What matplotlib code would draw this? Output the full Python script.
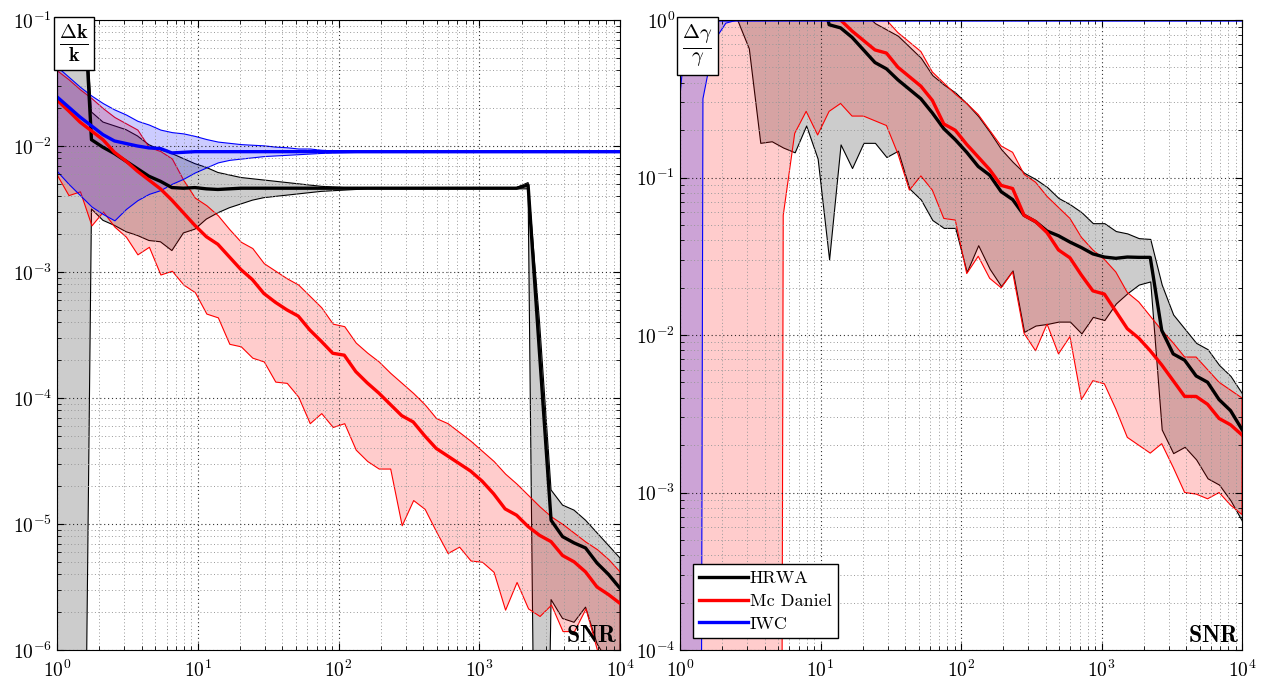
import numpy as np
import matplotlib.pyplot as plt

plt.rcParams['font.family'] = 'serif'
plt.rcParams['font.serif'] = ['cmr10']
plt.rcParams['mathtext.fontset'] = 'cm'
plt.rcParams['axes.formatter.use_mathtext'] = True

# SNR sampling (50 log-spaced points from 1 to 1e4)
snr = np.logspace(0, 4, 50)

# ---- left panel: relative error on k (values are log10) ----
k_hrwa_mean = [
    -0.25, -0.25, -0.25, -1.95, -2.01, -2.06, -2.12, -2.18, -2.24, -2.28,
    -2.33, -2.335, -2.33, -2.34, -2.345, -2.34, -2.335, -2.335, -2.335, -2.335,
    -2.335, -2.335, -2.335, -2.335, -2.335, -2.335, -2.335, -2.335, -2.335, -2.335,
    -2.335, -2.335, -2.335, -2.335, -2.335, -2.335, -2.335, -2.335, -2.335, -2.335,
    -2.335, -2.31, -3.65, -4.97, -5.10, -5.15, -5.19, -5.31, -5.40, -5.51]
k_hrwa_hi = [
    -0.20, -0.20, -0.20, -1.73, -1.81, -1.84, -1.87, -1.92, -1.99, -2.03,
    -2.06, -2.10, -2.14, -2.17, -2.21, -2.23, -2.25, -2.26, -2.27, -2.28,
    -2.29, -2.30, -2.31, -2.32, -2.325, -2.33, -2.33, -2.33, -2.33, -2.33,
    -2.33, -2.33, -2.33, -2.33, -2.33, -2.33, -2.33, -2.33, -2.33, -2.33,
    -2.33, -2.29, -3.40, -4.73, -4.85, -4.89, -4.97, -5.07, -5.17, -5.27]
k_hrwa_lo = [
    -11, -11, -11, -2.50, -2.59, -2.63, -2.68, -2.71, -2.75, -2.76,
    -2.83, -2.69, -2.66, -2.58, -2.53, -2.49, -2.46, -2.43, -2.41, -2.40,
    -2.39, -2.38, -2.37, -2.36, -2.355, -2.35, -2.345, -2.34, -2.34, -2.34,
    -2.34, -2.34, -2.34, -2.34, -2.34, -2.34, -2.34, -2.34, -2.34, -2.34,
    -2.34, -2.34, -11, -5.60, -5.75, -5.78, -5.66, -5.95, -6.10, -6.30]

k_mcd_mean = [
    -1.635, -1.72, -1.81, -1.88, -1.95, -2.05, -2.12, -2.20, -2.27, -2.34,
    -2.43, -2.53, -2.63, -2.72, -2.78, -2.88, -2.98, -3.06, -3.17, -3.24,
    -3.30, -3.35, -3.46, -3.55, -3.645, -3.66, -3.79, -3.88, -3.96, -4.05,
    -4.14, -4.19, -4.30, -4.40, -4.46, -4.52, -4.58, -4.66, -4.76, -4.88,
    -4.93, -5.02, -5.09, -5.14, -5.25, -5.30, -5.38, -5.50, -5.56, -5.63]
k_mcd_hi = [
    -1.40, -1.47, -1.55, -1.62, -1.70, -1.77, -1.82, -1.87, -2.01, -2.04,
    -2.10, -2.27, -2.41, -2.47, -2.55, -2.66, -2.76, -2.81, -2.93, -2.99,
    -3.05, -3.10, -3.19, -3.28, -3.41, -3.43, -3.56, -3.64, -3.71, -3.80,
    -3.88, -3.96, -4.05, -4.16, -4.20, -4.27, -4.34, -4.42, -4.50, -4.60,
    -4.68, -4.77, -4.86, -4.94, -5.00, -5.07, -5.14, -5.20, -5.28, -5.38]
k_mcd_lo = [
    -2.23, -2.39, -2.36, -2.63, -2.52, -2.64, -2.72, -2.86, -2.80, -3.02,
    -2.99, -3.10, -3.16, -3.33, -3.36, -3.57, -3.59, -3.68, -3.71, -3.87,
    -3.88, -3.99, -4.20, -4.12, -4.23, -4.20, -4.41, -4.50, -4.56, -4.56,
    -5.01, -4.81, -4.88, -5.06, -5.23, -5.18, -5.29, -5.30, -5.38, -5.68,
    -5.46, -5.67, -5.73, -5.64, -5.85, -5.85, -5.67, -6.00, -6.10, -6.20]

k_iwc_mean = [
    -1.61, -1.69, -1.77, -1.84, -1.91, -1.96, -1.98, -2.00, -2.015, -2.02,
    -2.055, -2.05, -2.045, -2.045, -2.045, -2.045, -2.045, -2.045, -2.045, -2.045,
    -2.045, -2.045, -2.045, -2.045, -2.045, -2.045, -2.045, -2.045, -2.045, -2.045,
    -2.045, -2.045, -2.045, -2.045, -2.045, -2.045, -2.045, -2.045, -2.045, -2.045,
    -2.045, -2.045, -2.045, -2.045, -2.045, -2.045, -2.045, -2.045, -2.045, -2.045]
k_iwc_hi = [
    -1.37, -1.45, -1.53, -1.60, -1.66, -1.71, -1.75, -1.80, -1.83, -1.87,
    -1.89, -1.90, -1.92, -1.945, -1.965, -1.975, -1.985, -1.99, -1.995, -2.005,
    -2.01, -2.02, -2.02, -2.03, -2.035, -2.037, -2.04, -2.042, -2.043, -2.043,
    -2.043, -2.043, -2.043, -2.043, -2.043, -2.043, -2.043, -2.043, -2.043, -2.043,
    -2.043, -2.043, -2.043, -2.043, -2.043, -2.043, -2.043, -2.043, -2.043, -2.043]
k_iwc_lo = [
    -2.20, -2.30, -2.39, -2.48, -2.54, -2.59, -2.50, -2.43, -2.38, -2.35,
    -2.30, -2.26, -2.21, -2.17, -2.13, -2.11, -2.10, -2.09, -2.08, -2.075,
    -2.07, -2.065, -2.06, -2.055, -2.052, -2.05, -2.048, -2.048, -2.048, -2.048,
    -2.048, -2.048, -2.048, -2.048, -2.048, -2.048, -2.048, -2.048, -2.048, -2.048,
    -2.048, -2.048, -2.048, -2.048, -2.048, -2.048, -2.048, -2.048, -2.048, -2.048]

# ---- right panel: relative error on gamma (values are log10) ----
g_hrwa_mean = [
    0.3, 0.3, 0.3, 0.3, 0.3, 0.3, 0.3, 0.3, 0.3, 0.3,
    0.3, 0.3, 0.3, -0.03, -0.05, -0.11, -0.19, -0.27, -0.31, -0.38,
    -0.44, -0.50, -0.59, -0.69, -0.76, -0.84, -0.93, -0.985, -1.09, -1.14,
    -1.24, -1.28, -1.34, -1.37, -1.41, -1.445, -1.485, -1.505, -1.513, -1.505,
    -1.507, -1.507, -1.97, -2.12, -2.16, -2.26, -2.30, -2.41, -2.48, -2.60]
g_hrwa_hi = [
    0.3, 0.3, 0.3, 0.3, 0.3, 0.3, 0.3, 0.3, 0.3, 0.3,
    0.3, 0.3, 0.3, 0.3, 0.3, 0.3, 0.05, -0.02, -0.06, -0.10,
    -0.17, -0.24, -0.35, -0.41, -0.46, -0.53, -0.61, -0.71, -0.82, -0.90,
    -0.97, -1.01, -1.06, -1.13, -1.17, -1.22, -1.29, -1.29, -1.34, -1.355,
    -1.385, -1.39, -1.68, -1.87, -1.96, -2.05, -2.09, -2.19, -2.26, -2.37]
g_hrwa_lo = [
    0.3, 0.3, 0.3, 0.3, 0.3, 0.0, -0.18, -0.78, -0.77, -0.81,
    -0.84, -0.67, -0.88, -1.52, -0.79, -0.94, -0.78, -0.78, -0.87, -0.83,
    -1.07, -1.14, -1.27, -1.32, -1.32, -1.60, -1.43, -1.58, -1.69, -1.59,
    -1.98, -1.94, -1.93, -1.915, -1.915, -1.99, -1.885, -1.905, -1.80, -1.735,
    -1.68, -1.66, -2.60, -2.75, -2.71, -2.79, -2.91, -2.95, -3.05, -3.18]

g_mcd_mean = [
    0.3, 0.3, 0.3, 0.3, 0.3, 0.3, 0.3, 0.3, 0.3, 0.3,
    0.3, 0.3, 0.3, 0.3, 0.0, -0.07, -0.13, -0.19, -0.21, -0.30,
    -0.36, -0.42, -0.51, -0.66, -0.70, -0.79, -0.87, -0.95, -1.05, -1.07,
    -1.24, -1.28, -1.35, -1.46, -1.51, -1.62, -1.72, -1.74, -1.85, -1.96,
    -2.02, -2.10, -2.19, -2.29, -2.39, -2.39, -2.44, -2.53, -2.57, -2.635]
g_mcd_hi = [
    0.3, 0.3, 0.3, 0.3, 0.3, 0.3, 0.3, 0.3, 0.3, 0.3,
    0.3, 0.3, 0.3, 0.3, 0.3, 0.3, 0.3, 0.3, 0.0, -0.08,
    -0.14, -0.20, -0.33, -0.40, -0.47, -0.53, -0.60, -0.70, -0.80, -0.84,
    -0.98, -1.03, -1.12, -1.19, -1.26, -1.38, -1.46, -1.52, -1.60, -1.73,
    -1.79, -1.88, -1.97, -2.05, -2.14, -2.14, -2.22, -2.30, -2.35, -2.40]
g_mcd_lo = [
    -30, -30, -30, -30, -30, -30, -30, -30, -30, -1.24,
    -0.72, -0.58, -0.73, -0.58, -0.53, -0.61, -0.61, -0.64, -0.67, -0.85,
    -1.08, -0.99, -1.08, -1.26, -1.27, -1.61, -1.50, -1.64, -1.70, -1.60,
    -1.99, -2.10, -1.93, -2.12, -2.01, -2.41, -2.29, -2.31, -2.47, -2.65,
    -2.70, -2.75, -2.69, -2.84, -3.00, -3.01, -3.04, -3.00, -3.08, -3.14]

g_iwc_mean = [0.3, 0.3, 0.3, 0.0, 0.0] + [0.0] * 45
g_iwc_hi = [-0.48] + [0.3] * 49
g_iwc_lo = [-30, -30, -0.50, -0.13, -0.02] + [0.0] * 45


def band(ax, lo, mean, hi, color, label):
    face = plt.matplotlib.colors.to_rgba(color, 0.2)
    ax.fill_between(snr, 10 ** np.array(lo), 10 ** np.array(hi),
                    facecolor=face, edgecolor=color, lw=0.8)
    ax.plot(snr, 10 ** np.array(mean), color=color, lw=2.4, label=label)


fig = plt.figure(figsize=(12.67, 6.82), dpi=100)
ax1 = fig.add_axes([57 / 1267, 32 / 682, 563 / 1267, 630 / 682])
ax2 = fig.add_axes([680 / 1267, 32 / 682, 562 / 1267, 630 / 682])

band(ax1, k_hrwa_lo, k_hrwa_mean, k_hrwa_hi, 'k', 'HRWA')
band(ax1, k_mcd_lo, k_mcd_mean, k_mcd_hi, 'r', 'Mc Daniel')
band(ax1, k_iwc_lo, k_iwc_mean, k_iwc_hi, 'b', 'IWC')

band(ax2, g_hrwa_lo, g_hrwa_mean, g_hrwa_hi, 'k', 'HRWA')
band(ax2, g_mcd_lo, g_mcd_mean, g_mcd_hi, 'r', 'Mc Daniel')
band(ax2, g_iwc_lo, g_iwc_mean, g_iwc_hi, 'b', 'IWC')

for ax, ylim in [(ax1, (1e-6, 1e-1)), (ax2, (1e-4, 1e0))]:
    ax.set_xscale('log')
    ax.set_yscale('log')
    ax.set_xlim(1, 1e4)
    ax.set_ylim(*ylim)
    ax.grid(True, which='major', ls=(0, (1, 2.5)), color='k', lw=0.8, alpha=0.8)
    ax.grid(True, which='minor', ls=(0, (1, 2.5)), color='0.6', lw=0.7)
    ax.tick_params(which='both', direction='in', top=True, right=True,
                   labelsize=14)
    ax.tick_params(axis='x', pad=7)
    ax.tick_params(which='major', length=5)
    ax.tick_params(which='minor', length=3)
    ax.text(0.996, 0.004, r'$\mathbf{SNR}$', transform=ax.transAxes,
            ha='right', va='bottom', fontsize=17)

box = dict(boxstyle='square,pad=0.18', fc='white', ec='k', lw=1)
ax1.text(0.004, 0.996, r'$\frac{\mathbf{\Delta k}}{\mathbf{k}}$',
         transform=ax1.transAxes, ha='left', va='top', fontsize=21, bbox=box)
ax2.text(0.004, 0.996, r'$\frac{\mathbf{\Delta}\gamma}{\gamma}$',
         transform=ax2.transAxes, ha='left', va='top', fontsize=21, bbox=box)

leg = ax2.legend(loc='lower left', bbox_to_anchor=(0.023, 0.019), fontsize=13,
                 frameon=True, fancybox=False, edgecolor='k', framealpha=1,
                 handlelength=2.7, handletextpad=0.1, labelspacing=0.4,
                 borderpad=0.35, borderaxespad=0)
leg.get_frame().set_linewidth(1)

fig.savefig('out.png', dpi=100)
